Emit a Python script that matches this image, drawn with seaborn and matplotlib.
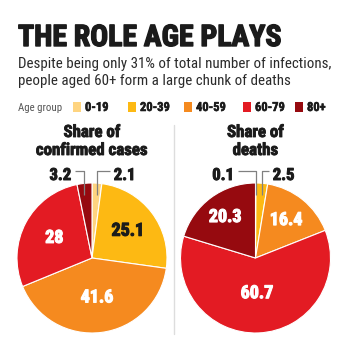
import matplotlib
matplotlib.use("Agg")
import os
import matplotlib.pyplot as plt
import matplotlib.patheffects as pe
import seaborn as sns
from matplotlib import font_manager as fm
from matplotlib.patches import Rectangle
import numpy as np

# ---------------- data ----------------
age_groups = ["0-19", "20-39", "40-59", "60-79", "80+"]
cases_share = [2.1, 25.1, 41.6, 28, 3.2]
deaths_share = [0.1, 2.5, 16.4, 60.7, 20.3]
cases_labels = ["2.1", "25.1", "41.6", "28", "3.2"]
deaths_labels = ["0.1", "2.5", "16.4", "60.7", "20.3"]

title = "THE ROLE AGE PLAYS"
subtitle1 = "Despite being only 31% of total number of infections,"
subtitle2 = "people aged 60+ form a large chunk of deaths"
legend_title = "Age group"
pie_titles = [("Share of", "confirmed cases"), ("Share of", "deaths")]

# ---------------- style ----------------
sns.set_theme(style="white")
palette = sns.color_palette(["#FED480", "#FDB913", "#F58A1F", "#E31B23", "#960A0F"])

files = {os.path.basename(f.fname).lower(): f.fname for f in fm.fontManager.ttflist}


def pick(cands):
    for c in cands:
        for b, p in files.items():
            if b.startswith(c.lower()):
                return p
    return None


BOLD = pick(["RobotoCondensed-Bold.", "RobotoCondensed-Bold", "NotoSans-CondensedBold.",
             "NotoSans-CondensedSemiBold", "OpenSans-CondBold", "OpenSansCondensed-Bold",
             "LiberationSansNarrow-Bold.", "DejaVuSansCondensed-Bold."])
REG = pick(["RobotoCondensed-Regular", "NotoSans-Condensed.", "NotoSans-CondensedRegular",
            "OpenSans-CondensedRegular", "OpenSansCondensed-Regular", "LiberationSansNarrow-Regular",
            "DejaVuSansCondensed."])
BLACK = pick(["RobotoCondensed-Black", "NotoSans-CondensedBlack", "NotoSans-CondensedExtraBold",
              "OpenSansCondensed-ExtraBold"]) or BOLD

plt.rcParams["font.family"] = ["DejaVu Sans"]

W, H = 349, 362
fig = plt.figure(figsize=(W / 100, H / 100), dpi=100)
fig.patch.set_facecolor("white")
renderer = fig.canvas.get_renderer()


def fp(weight="bold"):
    path = {"bold": BOLD, "normal": REG, "black": BLACK}[weight]
    if path:
        return fm.FontProperties(fname=path)
    return fm.FontProperties(family="DejaVu Sans", weight="bold" if weight != "normal" else "normal")


def heavy(color, lw=0.7):
    return [pe.withStroke(linewidth=lw, foreground=color)]


def fit_size(s, target_w, weight="bold", size=12):
    t = fig.text(0, 0, s, fontproperties=fp(weight))
    t.set_fontsize(size)
    bb = t.get_window_extent(renderer)
    t.remove()
    return size * target_w / bb.width


def ftext(x, y, s, size, target_w=None, weight="bold", **kw):
    if target_w is not None:
        size = fit_size(s, target_w, weight, size)
    t = fig.text(x / W, 1 - y / H, s, fontproperties=fp(weight), **kw)
    t.set_fontsize(size)
    return t


# title + subtitle
ftext(18, 46, title, 22, target_w=263, weight="black", color="#1b1b1b", va="baseline", ha="left",
      path_effects=heavy("#1b1b1b", 1.0))
ftext(18, 68, subtitle1, 11, target_w=310, weight="normal", color="#2a2a2a", va="baseline", ha="left")
ftext(18, 85, subtitle2, 11, target_w=272, weight="normal", color="#2a2a2a", va="baseline", ha="left")

# legend
ftext(18, 111, legend_title, 8, target_w=44, weight="normal", color="#555555", va="baseline", ha="left")
leg_size = 9
leg_x = [73, 128, 184, 243, 295]
for xx, lab, col in zip(leg_x, age_groups, palette):
    fig.patches.append(Rectangle((xx / W, 1 - 112 / H), 8 / W, 10 / H, transform=fig.transFigure,
                                 facecolor=col, edgecolor="none"))
    ftext(xx + 12, 111, lab, leg_size, color="#1b1b1b", va="baseline", ha="left",
          path_effects=heavy("#1b1b1b", 0.4))

# divider
fig.add_artist(plt.Line2D([173.5 / W, 173.5 / W], [1 - 125 / H, 1 - 334 / H],
                          transform=fig.transFigure, color="#dddddd", lw=1))

# pies
centers = [(92, 258), (255.5, 258)]
R = 75
datasets = [cases_share, deaths_share]
labelsets = [cases_labels, deaths_labels]
inside_r = [[None, 0.60, 0.53, 0.57, None], [None, None, 0.65, 0.47, 0.68]]
inside_col = [[None, "#1b1b1b", "white", "white", None], [None, None, "white", "white", "white"]]
outside = [[(0, +1), (4, -1)], [(0, -1), (1, +1)]]  # (slice index, side)
outside_end = [[0.24, -0.23], [-0.24, 0.18]]

in_size = 13
out_size = 12
title_size = fit_size("confirmed cases", 112)

for k, ((cx, cy), vals, labs) in enumerate(zip(centers, datasets, labelsets)):
    ax = fig.add_axes([(cx - R) / W, (H - cy - R) / H, 2 * R / W, 2 * R / H])
    wedges, _ = ax.pie(vals, colors=palette, startangle=90, counterclock=False,
                       wedgeprops=dict(edgecolor="white", linewidth=0.8))
    ax.set_xlim(-1, 1)
    ax.set_ylim(-1, 1)
    ax.set_aspect("equal")
    ax.axis("off")
    for i, w in enumerate(wedges):
        mid = np.deg2rad((w.theta1 + w.theta2) / 2)
        r = inside_r[k][i]
        if r is not None:
            c = inside_col[k][i]
            ax.text(r * np.cos(mid), r * np.sin(mid), labs[i], ha="center", va="center",
                    fontproperties=fp(), fontsize=in_size, color=c, path_effects=heavy(c, 0.8))
    y_line = (cy - 171) / R
    for (i, side), xe in zip(outside[k], outside_end[k]):
        w = wedges[i]
        mid = np.deg2rad((w.theta1 + w.theta2) / 2)
        xm = np.cos(mid)
        ax.plot([xm, xm, xe], [0.84, y_line, y_line], color="#808080", lw=0.9,
                clip_on=False, solid_capstyle="butt")
        ax.text(xe + side * 0.05, y_line - 0.06, labs[i], ha="left" if side > 0 else "right",
                va="center", fontproperties=fp(), fontsize=out_size, color="#1b1b1b", clip_on=False,
                path_effects=heavy("#1b1b1b", 0.7))
    t1, t2 = pie_titles[k]
    ftext(cx, 137, t1, title_size, color="#1b1b1b", ha="center", va="baseline",
          path_effects=heavy("#1b1b1b", 0.6))
    ftext(cx, 155, t2, title_size, color="#1b1b1b", ha="center", va="baseline",
          path_effects=heavy("#1b1b1b", 0.6))

fig.savefig("out.png", dpi=100, facecolor="white")
